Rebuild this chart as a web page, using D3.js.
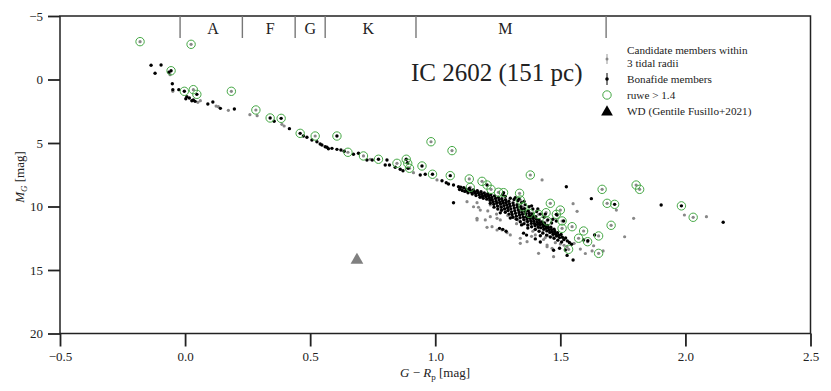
<!DOCTYPE html>
<html>
<head>
<meta charset="utf-8">
<script src="https://cdn.jsdelivr.net/npm/d3@7"></script>
<style>
  body { margin: 0; background: #fff; }
  svg text { font-family: "Liberation Serif", "DejaVu Serif", serif; fill: #222; }
  .axis path, .axis line { stroke: #222; }
</style>
</head>
<body>
<div id="cmd"></div>
<script>
// bonafide members, [G-Rp, M_G]
var bonafide = [
  [-0.136,-1.12],[-0.096,-1.14],[-0.12,-0.49],[-0.065,-0.57],[-0.051,0.33],[-0.049,0.80],[-0.025,0.80],
  [0.007,1.35],[0.017,1.46],[0.003,1.51],[0.033,1.61],[0.040,1.72],[0.027,1.67],[0.091,1.93],[0.111,1.77],
  [0.141,2.27],[0.197,2.32],[0.356,3.29],[0.417,3.87],[0.473,4.45],[0.487,4.55],[0.507,4.76],[0.527,4.90],
  [0.54,5.08],[0.56,5.29],[0.573,5.45],[0.547,5.16],[0.567,5.34],[0.587,5.42],[0.607,5.50],[0.623,5.55],
  [0.636,5.65],[0.673,5.89],[0.693,5.81],[0.727,6.34],[0.748,6.34],[0.807,6.34],[0.80,6.73],[0.817,6.73],
  [0.84,6.91],[0.86,7.07],[0.871,7.18],[0.889,6.55],[0.891,6.99],[0.94,7.52],[0.96,7.46],[1.027,7.97],
  [1.044,8.13],[1.053,8.23],[1.073,8.31],[1.093,8.44],[1.073,9.70],
  // main band
  [1.102,8.48],[1.097,8.66],[1.108,8.74],[1.114,8.52],[1.118,8.81],[1.123,8.63],[1.127,8.77],[1.131,8.92],
  [1.136,8.58],[1.139,8.71],[1.144,8.86],[1.148,9.02],[1.152,8.69],[1.157,8.83],[1.161,8.97],[1.163,9.14],
  [1.168,8.76],[1.172,8.91],[1.176,9.08],[1.179,9.27],[1.183,8.84],[1.186,9.01],[1.189,9.19],[1.192,9.36],
  [1.196,8.93],[1.199,9.11],[1.203,9.24],[1.206,9.42],[1.209,9.02],[1.213,9.17],[1.216,9.33],[1.219,9.51],
  [1.222,9.08],[1.226,9.29],[1.228,9.46],[1.231,9.64],[1.234,9.83],[1.237,9.16],[1.241,9.37],[1.243,9.58],
  [1.246,9.74],[1.249,9.97],[1.252,9.27],[1.255,9.46],[1.258,9.66],[1.261,9.81],[1.264,10.06],[1.266,9.38],
  [1.269,9.56],[1.272,9.73],[1.275,9.93],[1.277,10.17],[1.281,9.47],[1.283,9.69],[1.286,9.88],[1.289,10.09],
  [1.291,10.31],[1.294,9.59],[1.297,9.79],[1.299,9.98],[1.302,10.19],[1.305,10.42],[1.307,10.63],[1.311,9.72],
  [1.313,9.91],[1.316,10.12],[1.318,10.33],[1.321,10.54],[1.324,10.76],[1.327,9.86],[1.329,10.06],[1.332,10.27],
  [1.335,10.47],[1.337,10.66],[1.339,10.89],[1.342,10.02],[1.345,10.21],[1.347,10.43],[1.349,10.62],[1.352,10.84],
  [1.354,11.03],[1.357,10.18],[1.359,10.38],[1.362,10.57],[1.364,10.79],[1.367,10.97],[1.369,11.18],[1.372,10.36],
  [1.375,10.55],[1.377,10.74],[1.379,10.93],[1.382,11.12],[1.384,11.33],[1.387,10.58],[1.389,10.76],[1.392,10.95],
  [1.394,11.16],[1.397,11.36],[1.399,11.52],[1.402,10.81],[1.405,11.01],[1.407,11.22],[1.409,11.41],[1.412,11.63],
  [1.415,11.06],[1.417,11.27],[1.419,11.46],[1.422,11.68],[1.426,11.21],[1.429,11.39],[1.432,11.58],[1.434,11.79],
  [1.437,11.36],[1.441,11.53],[1.443,11.71],[1.446,11.92],[1.449,11.49],[1.452,11.67],[1.455,11.86],[1.458,12.04],
  [1.462,11.63],[1.465,11.82],[1.468,12.01],[1.471,12.18],[1.475,11.79],[1.478,11.97],[1.481,12.16],[1.485,12.33],
  [1.489,12.07],[1.493,12.26],[1.497,12.45],[1.503,12.21],[1.508,12.42],[1.514,12.61],[1.521,12.48],[1.528,12.71],
  [1.536,12.83],[1.545,12.97],
  // band upper side
  [1.30,9.35],[1.315,9.45],[1.33,9.55],[1.345,9.70],[1.36,9.85],[1.375,10.02],[1.39,10.20],[1.405,10.40],
  [1.42,10.60],[1.435,10.85],[1.45,11.05],[1.465,11.30],[1.28,9.20],[1.32,9.30],[1.355,9.60],[1.385,9.95],
  [1.41,10.20],[1.44,10.60],[1.47,11.00],[1.27,9.05],[1.335,9.40],
  // band lower side
  [1.22,9.75],[1.235,10.05],[1.25,10.20],[1.265,10.30],[1.28,10.45],[1.295,10.60],[1.31,10.85],[1.325,11.00],
  [1.34,11.20],[1.355,11.35],[1.37,11.45],[1.385,11.60],[1.40,11.80],[1.415,11.95],[1.43,12.10],[1.445,12.25],
  [1.46,12.40],[1.475,12.50],[1.49,12.65],[1.505,12.80],[1.26,10.50],[1.30,10.90],[1.345,11.45],[1.37,11.70],
  [1.42,12.30],
  // scattered
  [1.524,8.44],[1.624,9.38],[1.487,10.67],[1.484,11.14],[1.436,11.30],[1.513,11.14],[1.52,13.43],[1.551,14.21],
  [1.593,12.64],[1.61,12.70],[1.527,13.85],[1.497,13.29],[1.257,11.72],[1.27,11.80],[1.283,11.95],[1.40,12.55],
  [1.42,12.80],[1.473,13.45],[1.637,12.24],[1.903,9.88],[2.151,11.24],[1.353,12.10],[1.365,12.25]
];

// candidate members within 3 tidal radii
var candidates = [
  [-0.06,-0.38],[-0.049,0.93],[0.051,1.80],[0.061,1.67],[0.124,2.09],[0.133,2.14],[0.173,2.43],
  [0.259,2.77],[0.288,2.85],[0.387,3.53],[0.396,3.66],[0.74,6.28],[0.913,7.34],[1.007,7.91],[1.107,8.57],
  [1.15,8.90],[1.19,9.30],[1.22,9.62],[1.26,9.95],[1.28,10.32],[1.31,10.82],[1.33,11.05],[1.35,11.40],
  [1.37,11.50],[1.40,11.80],[1.42,11.20],[1.38,10.50],[1.43,12.00],[1.45,12.30],[1.47,12.35],[1.32,10.95],
  [1.127,9.62],[1.167,9.70],[1.153,10.02],[1.173,10.06],[1.18,10.28],[1.22,9.88],[1.22,10.80],[1.247,10.93],
  [1.167,10.93],[1.167,11.06],[1.20,11.06],[1.26,11.06],[1.207,11.64],[1.227,11.59],[1.247,11.85],
  [1.267,11.85],[1.287,12.06],[1.30,12.24],[1.34,12.50],[1.367,12.77],[1.34,12.90],[1.40,12.24],
  [1.413,13.69],[1.447,13.03],[1.447,13.17],[1.467,13.29],[1.473,13.95],[1.527,13.17],[1.433,12.60],
  [1.427,7.91],[1.551,9.78],[1.567,10.38],[1.633,13.09],[1.627,13.50],[1.671,13.50],[1.724,10.28],
  [1.793,10.93],[1.757,12.38],[1.996,10.67],[2.084,10.80],[1.555,12.90],[1.58,13.35],[1.60,13.70],
  [1.29,10.70],[1.36,11.15],[1.39,11.95],[1.44,12.45],[1.48,12.85],[1.325,11.35],[1.385,12.35],
  [1.245,10.60],[1.21,10.35],[1.5,12.95],[1.515,13.05]
];

// ruwe > 1.4 stars, third value: b = bonafide, c = candidate
var ruwe = [
  [-0.18,-2.98,"c"],[0.024,-2.77,"c"],[-0.056,-0.69,"b"],[-0.003,0.93,"b"],[0.033,0.80,"c"],[0.047,1.17,"b"],
  [0.185,0.93,"c"],[0.283,2.40,"c"],[0.34,3.03,"b"],[0.384,3.06,"b"],[0.46,4.24,"b"],[0.52,4.45,"c"],
  [0.607,4.45,"b"],[0.651,5.73,"c"],[0.713,6.02,"c"],[0.773,6.28,"b"],[0.847,6.60,"c"],[0.884,6.28,"b"],
  [0.89,6.60,"c"],[0.897,6.99,"c"],[0.947,6.81,"b"],[0.983,4.90,"c"],[1.067,5.60,"c"],[0.989,7.46,"b"],
  [1.06,7.57,"b"],[1.136,7.83,"c"],[1.14,8.50,"c"],[1.187,8.02,"c"],[1.207,8.31,"b"],[1.223,8.65,"c"],
  [1.253,8.88,"c"],[1.273,8.91,"b"],[1.337,8.96,"c"],[1.34,9.49,"c"],[1.351,10.02,"c"],[1.376,10.54,"c"],
  [1.413,10.62,"c"],[1.443,10.49,"c"],[1.46,9.75,"c"],[1.50,10.28,"c"],[1.484,10.62,"b"],[1.447,11.14,"c"],
  [1.507,11.14,"c"],[1.507,11.72,"c"],[1.547,11.59,"c"],[1.573,12.50,"c"],[1.533,13.37,"c"],[1.38,7.52,"c"],
  [1.593,11.93,"c"],[1.609,12.77,"c"],[1.653,12.32,"c"],[1.653,13.69,"c"],[1.667,8.65,"c"],[1.687,9.75,"c"],
  [1.717,9.83,"b"],[1.703,11.48,"c"],[1.803,8.31,"c"],[1.817,8.65,"c"],[1.984,9.95,"b"],[2.031,10.85,"c"]
];

// white dwarf
var wd = [[0.687,14.21]];

// spectral type boundaries and labels
var sptEdges = [-0.02, 0.229, 0.44, 0.56, 0.923, 1.683];
var sptLabels = ["A", "F", "G", "K", "M"];
var sptLabelX = [0.112, 0.34, 0.5, 0.732, 1.28];

var xTicks = [-0.5, 0, 0.5, 1, 1.5, 2, 2.5];
var yTicks = [-5, 0, 5, 10, 15, 20];

var W = 831, H = 391;
var margin = { top: 16, right: 20.5, bottom: 57.5, left: 60 };

var svg = d3.select("#cmd").append("svg")
  .attr("width", W)
  .attr("height", H);

var x = d3.scaleLinear().domain([-0.5, 2.5]).range([margin.left, W - margin.right]);
var y = d3.scaleLinear().domain([-5, 20]).range([margin.top, H - margin.bottom]);

// axes
var xAxis = d3.axisBottom(x).tickValues(xTicks).tickFormat(d3.format(".1f")).tickSize(13).tickPadding(5);
var yAxis = d3.axisLeft(y).tickValues(yTicks).tickFormat(d3.format("d")).tickSize(12).tickPadding(5);

var gx = svg.append("g").attr("class", "axis")
  .attr("transform", "translate(0," + y(20) + ")")
  .call(xAxis);
var gy = svg.append("g").attr("class", "axis")
  .attr("transform", "translate(" + x(-0.5) + ",0)")
  .call(yAxis);
gx.select(".domain").remove();
gy.select(".domain").remove();
svg.selectAll(".axis line").attr("stroke-width", 1.8);
svg.selectAll(".axis text").style("font-size", "13px").attr("fill", "#333");

// frame
svg.append("rect")
  .attr("x", x(-0.5)).attr("y", y(-5))
  .attr("width", x(2.5) - x(-0.5)).attr("height", y(20) - y(-5))
  .attr("fill", "none").attr("stroke", "#222").attr("stroke-width", 1.5);

// spectral type bar
svg.append("g").selectAll("line")
  .data(sptEdges)
  .join("line")
  .attr("x1", d => x(d)).attr("x2", d => x(d))
  .attr("y1", y(-5)).attr("y2", y(-5) + 22)
  .attr("stroke", "#777").attr("stroke-width", 1.4);
svg.append("g").selectAll("text")
  .data(sptLabels)
  .join("text")
  .attr("x", (d, i) => x(sptLabelX[i]))
  .attr("y", y(-5) + 18)
  .attr("text-anchor", "middle")
  .style("font-size", "16px")
  .text(d => d);

// points
svg.append("g").selectAll("circle")
  .data(candidates.concat(ruwe.filter(d => d[2] == "c")))
  .join("circle")
  .attr("cx", d => x(d[0])).attr("cy", d => y(d[1]))
  .attr("r", 1.6)
  .attr("fill", "#888");

svg.append("g").selectAll("circle")
  .data(bonafide.concat(ruwe.filter(d => d[2] == "b")))
  .join("circle")
  .attr("cx", d => x(d[0])).attr("cy", d => y(d[1]))
  .attr("r", 1.7)
  .attr("fill", "#000");

svg.append("g").selectAll("circle")
  .data(ruwe)
  .join("circle")
  .attr("cx", d => x(d[0])).attr("cy", d => y(d[1]))
  .attr("r", 4.2)
  .attr("fill", "none")
  .attr("stroke", "#45a845")
  .attr("stroke-width", 1);

var tri = d3.symbol().type(d3.symbolTriangle).size(70);
svg.append("g").selectAll("path")
  .data(wd)
  .join("path")
  .attr("transform", d => "translate(" + x(d[0]) + "," + y(d[1]) + ")")
  .attr("d", tri)
  .attr("fill", "#808080");

// title
svg.append("text")
  .attr("x", 411).attr("y", 81)
  .style("font-size", "25px")
  .attr("fill", "#111")
  .text("IC 2602 (151 pc)");

// legend
var leg = svg.append("g").attr("transform", "translate(607,0)");
leg.append("line").attr("x1", 0).attr("x2", 0).attr("y1", 54).attr("y2", 64).attr("stroke", "#999").attr("stroke-width", 1);
leg.append("circle").attr("cx", 0).attr("cy", 59).attr("r", 1.5).attr("fill", "#888");
leg.append("line").attr("x1", 0).attr("x2", 0).attr("y1", 73).attr("y2", 85).attr("stroke", "#000").attr("stroke-width", 1);
leg.append("circle").attr("cx", 0).attr("cy", 79).attr("r", 1.8).attr("fill", "#000");
leg.append("circle").attr("cx", 0).attr("cy", 95).attr("r", 4.2).attr("fill", "none").attr("stroke", "#45a845");
leg.append("path").attr("transform", "translate(0,112)").attr("d", d3.symbol().type(d3.symbolTriangle).size(60)).attr("fill", "#000");
var legText = [["Candidate members within", 54], ["3 tidal radii", 67], ["Bonafide members", 83], ["ruwe > 1.4", 99], ["WD (Gentile Fusillo+2021)", 115]];
leg.selectAll("text.lg")
  .data(legText)
  .join("text")
  .attr("class", "lg")
  .attr("x", 20).attr("y", d => d[1])
  .style("font-size", "11.2px")
  .text(d => d[0]);

// axis labels
var xl = svg.append("text")
  .attr("x", 435).attr("y", 377)
  .attr("text-anchor", "middle")
  .style("font-size", "13px");
xl.append("tspan").attr("font-style", "italic").text("G");
xl.append("tspan").text(" − ");
xl.append("tspan").attr("font-style", "italic").text("R");
xl.append("tspan").attr("dy", 3).style("font-size", "9px").text("p");
xl.append("tspan").attr("dy", -3).text(" [mag]");

var yl = svg.append("text")
  .attr("transform", "translate(24,177) rotate(-90)")
  .attr("text-anchor", "middle")
  .style("font-size", "13px");
yl.append("tspan").attr("font-style", "italic").text("M");
yl.append("tspan").attr("dy", 3).attr("font-style", "italic").style("font-size", "9px").text("G");
yl.append("tspan").attr("dy", -3).text(" [mag]");
</script>
</body>
</html>
